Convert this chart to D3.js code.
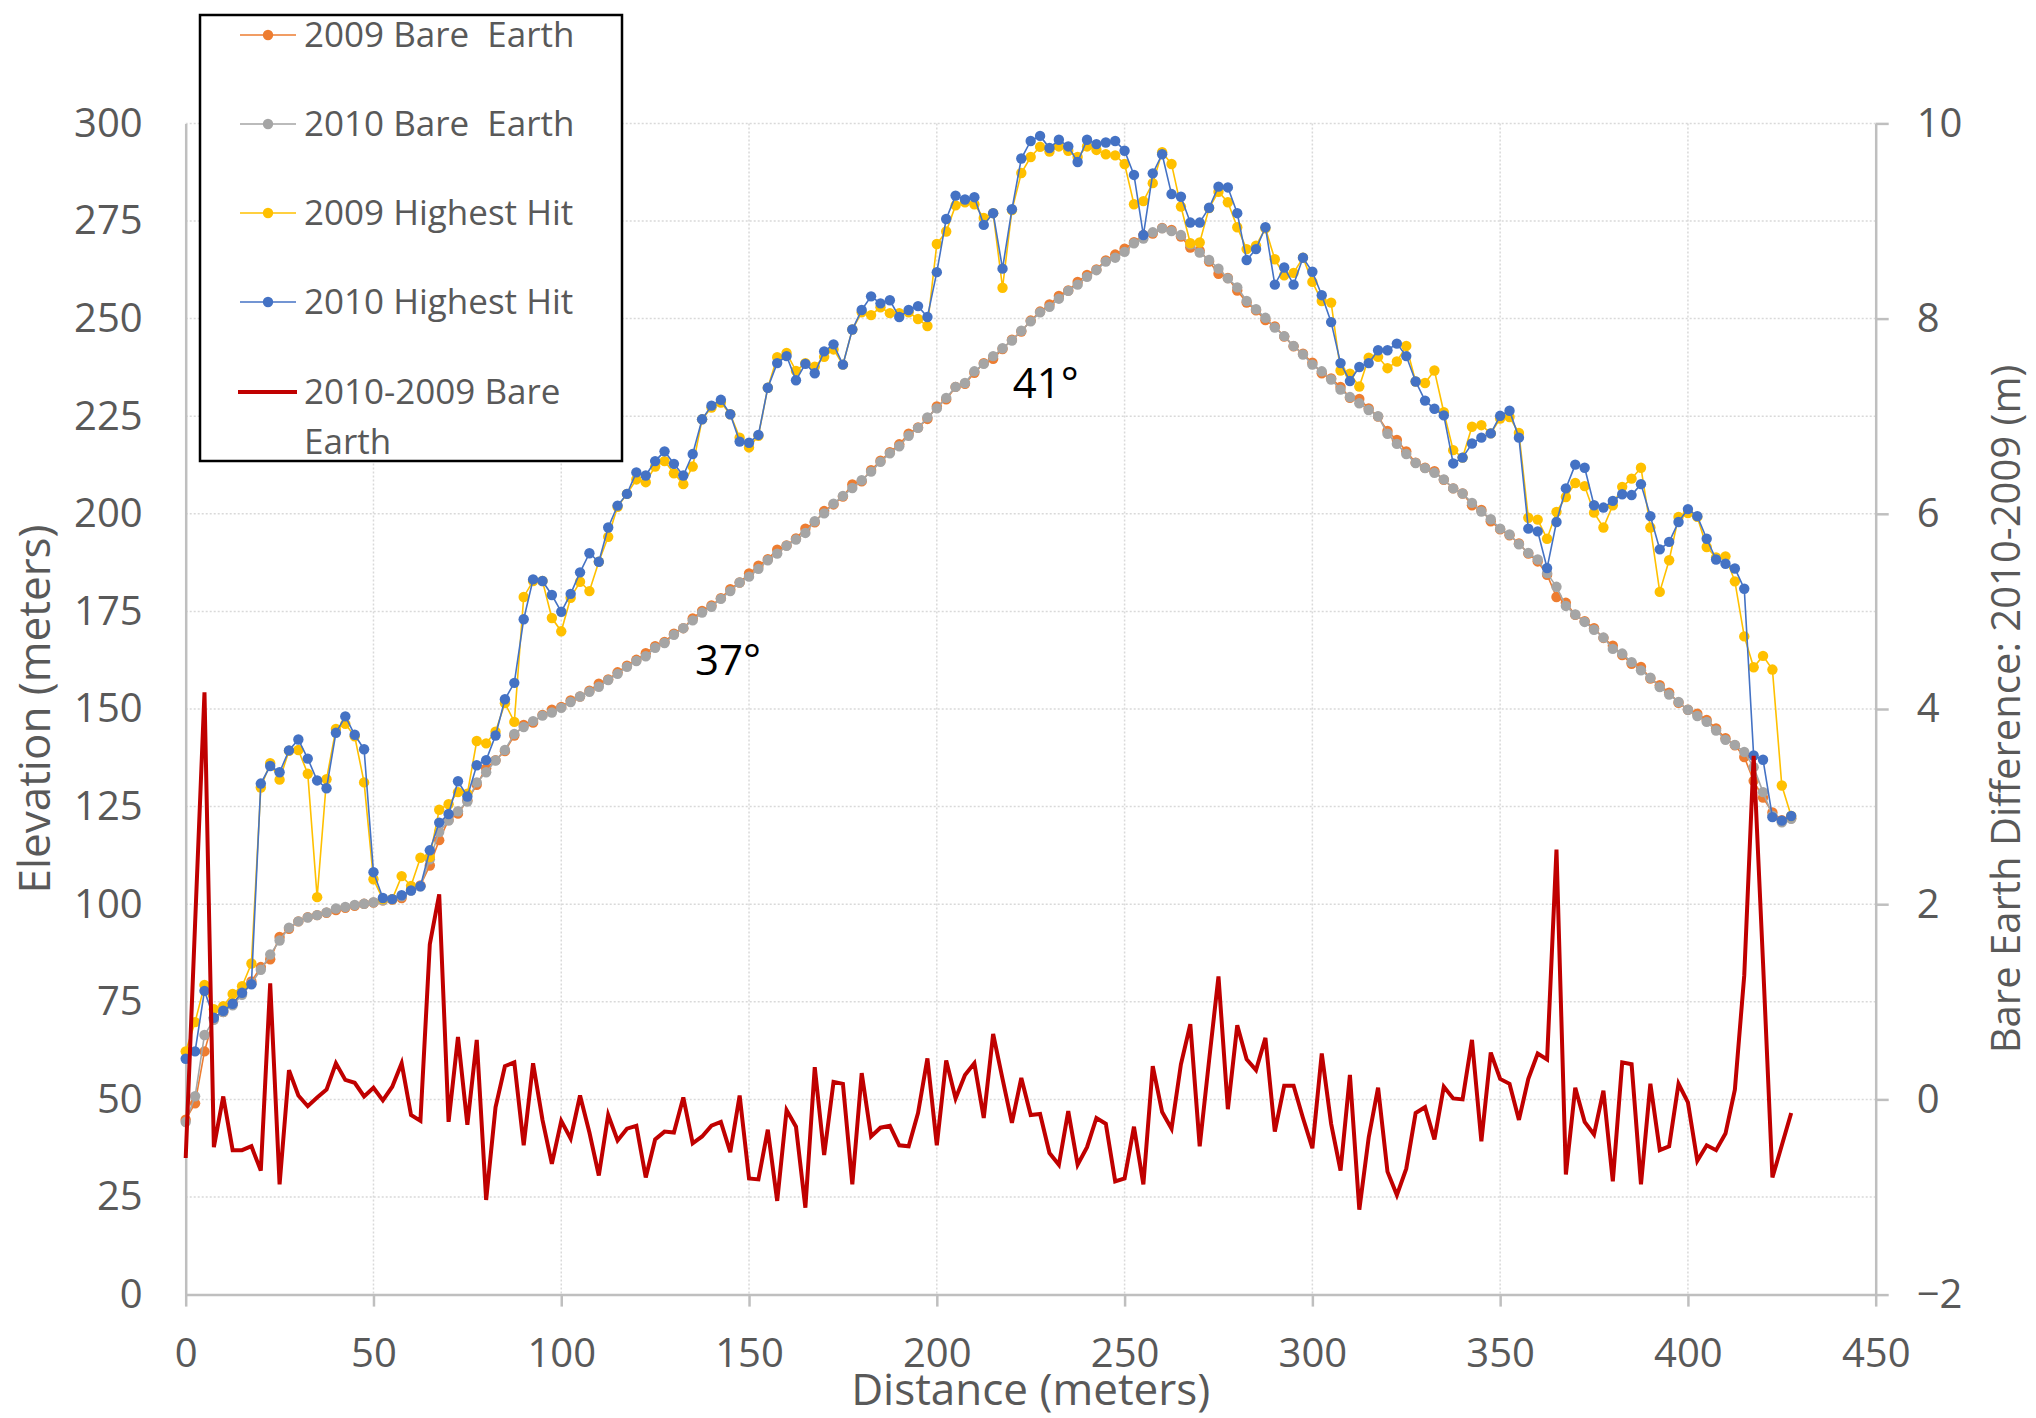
<!DOCTYPE html>
<html>
<head>
<meta charset="utf-8">
<script src="https://cdn.jsdelivr.net/npm/d3@7"></script>
<style>
  body { margin: 0; background: #fff; }
  svg { display: block; font-family: "Open Sans", "Noto Sans", sans-serif; }
  .gridline { stroke: #d9d9d9; stroke-width: 1.5; stroke-dasharray: 2,2; }
  .axis path, .axis line { stroke: #bfbfbf; stroke-width: 2.5; }
  .axis text { fill: #595959; font-size: 40px; }
  .title { fill: #595959; font-size: 44px; }
  .legtext { fill: #595959; font-size: 35px; white-space: pre; }
</style>
</head>
<body>
<div id="chart"></div>
<script>
// distances along the profile (m)
var distance = [0,2.5,5,7.5,10,12.5,15,17.5,20,22.5,25,27.5,30,32.5,35,37.5,40,42.5,45,47.5,
  50,52.5,55,57.5,60,62.5,65,67.5,70,72.5,75,77.5,80,82.5,85,87.5,90,92.5,95,97.5,
  100,102.5,105,107.5,110,112.5,115,117.5,120,122.5,125,127.5,130,132.5,135,137.5,140,142.5,145,147.5,
  150,152.5,155,157.5,160,162.5,165,167.5,170,172.5,175,177.5,180,182.5,185,187.5,190,192.5,195,197.5,
  200,202.5,205,207.5,210,212.5,215,217.5,220,222.5,225,227.5,230,232.5,235,237.5,240,242.5,245,247.5,
  250,252.5,255,257.5,260,262.5,265,267.5,270,272.5,275,277.5,280,282.5,285,287.5,290,292.5,295,297.5,
  300,302.5,305,307.5,310,312.5,315,317.5,320,322.5,325,327.5,330,332.5,335,337.5,340,342.5,345,347.5,
  350,352.5,355,357.5,360,362.5,365,367.5,370,372.5,375,377.5,380,382.5,385,387.5,390,392.5,395,397.5,
  400,402.5,405,407.5,410,412.5,415,417.5,420,422.5,425,427.5];

var bare2009 = [44.8,49.0,62.3,70.9,72.4,74.6,77.3,80.2,83.9,85.9,91.6,93.7,95.6,96.7,97.2,97.8,98.5,99.1,99.6,100.1,
  100.4,101.0,101.2,101.6,103.7,104.8,109.9,116.4,121.6,123.2,126.6,130.6,134.8,136.9,139.2,143.2,145.9,146.5,148.5,149.8,
  150.5,152.2,153.2,154.7,156.5,157.6,159.4,161.1,162.6,164.3,166.1,167.2,169.3,170.7,173.2,175.1,176.5,178.4,180.7,182.4,
  184.7,186.7,188.4,190.8,191.9,193.7,196.2,197.8,200.7,202.4,204.4,207.5,208.3,211.2,213.6,215.8,217.8,220.5,222.1,224.3,
  227.5,229.3,232.5,233.3,236.1,238.6,239.7,242.2,244.6,246.7,249.5,251.8,253.6,255.8,257.2,259.4,261.2,262.6,264.9,266.4,
  267.9,269.6,271.4,271.8,273.2,272.7,271.0,268.2,267.4,264.6,261.5,260.4,257.2,254.1,252.1,249.6,248.0,245.4,242.9,241.0,
  238.7,236.0,234.7,232.5,229.7,229.4,227.0,224.9,221.2,218.9,216.0,213.1,211.8,210.9,208.7,206.5,205.2,202.2,201.0,198.1,
  196.0,194.5,192.4,189.8,187.8,184.4,178.7,177.2,174.1,172.5,170.7,168.2,166.2,163.8,161.6,160.8,157.8,156.1,154.2,151.6,
  149.8,148.8,147.2,145.0,142.5,140.7,137.7,131.6,127.3,123.5,121.5,122.0];

var bare2010 = [44.2,50.8,66.5,70.4,72.4,74.1,76.8,79.7,83.2,87.1,90.7,94.0,95.6,96.6,97.2,97.9,98.9,99.3,99.8,100.1,
  100.5,101.0,101.3,102.0,103.5,104.6,111.5,118.5,121.4,123.8,126.3,131.2,133.8,136.8,139.5,143.6,145.4,146.9,148.3,149.1,
  150.3,151.8,153.2,154.4,155.7,157.4,159.0,160.8,162.3,163.5,165.7,166.9,169.0,170.7,172.7,174.7,176.2,178.2,180.2,182.4,
  183.9,185.9,188.1,189.8,191.8,193.4,195.1,198.1,200.1,202.6,204.6,206.6,208.6,210.8,213.3,215.5,217.3,220.0,222.0,224.7,
  227.0,229.7,232.5,233.5,236.5,238.4,240.4,242.4,244.4,246.9,249.3,251.6,253.0,255.1,257.1,258.7,260.7,262.4,264.6,265.6,
  267.1,269.3,270.5,272.1,273.1,272.4,271.4,269.0,266.9,265.0,262.8,260.3,258.0,254.5,252.4,250.2,247.7,245.5,243.0,240.8,
  238.2,236.5,234.4,231.8,229.9,228.3,226.6,225.0,220.5,217.9,215.3,213.0,211.7,210.5,208.8,206.5,205.2,202.8,200.6,198.6,
  196.2,194.7,192.2,190.0,188.3,184.8,181.3,176.4,174.2,172.3,170.3,168.3,165.4,164.2,162.0,159.9,158.0,155.6,153.7,151.8,
  149.8,148.2,146.7,144.5,142.1,140.8,139.0,135.1,128.7,122.7,121.0,121.9];

var hit2009 = [62.3,69.8,79.3,73.1,73.9,77.0,79.0,84.8,129.9,136.1,131.9,139.3,139.5,133.4,101.8,132.0,144.9,146.2,143.0,131.2,
  106.4,101.3,101.3,107.2,104.7,111.9,112.1,124.2,125.6,128.7,128.3,141.8,141.2,144.2,151.5,146.7,178.7,182.8,182.8,173.3,
  169.9,178.5,182.6,180.2,187.7,194.1,201.8,205.1,208.8,208.1,212.1,213.5,210.4,207.6,212.1,224.2,227.2,228.5,225.5,219.5,
  217.0,220.0,232.3,240.1,241.2,236.6,238.6,237.7,240.2,242.1,238.2,247.2,251.6,250.9,252.9,251.4,251.4,251.6,249.9,248.1,
  269.1,272.3,279.0,279.8,279.3,275.8,277.0,257.9,277.8,287.3,291.4,294.0,292.8,294.1,293.0,291.4,294.1,293.2,292.1,291.8,
  289.6,279.3,280.1,284.7,292.6,289.6,278.7,269.3,269.5,278.3,282.5,279.8,273.4,267.8,268.7,273.1,265.2,261.1,261.7,265.6,
  259.4,254.5,254.1,236.7,235.9,232.6,240.0,240.2,237.3,239.0,243.0,233.9,233.5,236.7,226.0,216.3,214.4,222.3,222.7,220.6,
  224.4,224.8,220.7,199.0,198.5,193.6,200.5,204.3,207.9,207.1,200.3,196.5,202.2,206.9,209.0,211.8,196.5,180.0,188.1,199.2,
  200.2,199.2,191.5,188.8,189.1,182.7,168.6,160.7,163.6,160.1,130.4,122.6];

var hit2010 = [60.4,62.3,77.8,70.9,72.7,74.5,77.3,79.5,130.9,135.4,133.8,139.4,142.2,137.3,131.7,129.7,143.9,148.1,143.4,139.7,
  108.2,101.6,101.3,102.3,103.5,104.6,113.8,120.9,123.1,131.5,127.6,135.6,136.9,143.2,152.5,156.7,173.0,183.2,182.8,179.2,
  174.9,179.5,185.0,189.9,187.7,196.5,202.1,205.1,210.6,209.8,213.5,216.0,212.8,209.8,215.3,224.2,227.7,229.2,225.5,218.5,
  218.2,220.2,232.3,238.6,240.4,234.2,238.4,236.0,241.6,243.4,238.2,247.2,252.2,255.7,253.9,254.7,250.4,252.2,253.2,250.4,
  261.9,275.5,281.5,280.5,281.1,274.0,277.0,262.8,278.0,291.0,295.5,296.8,293.7,295.8,294.1,290.1,295.8,294.7,295.1,295.5,
  293.0,286.8,271.4,287.2,292.1,281.9,281.2,274.6,274.6,278.4,283.8,283.6,277.0,265.0,267.8,273.4,258.7,263.1,258.7,265.6,
  262.0,256.0,249.1,238.6,234.0,237.6,238.6,241.9,241.9,243.6,240.4,233.9,229.0,226.9,225.2,212.9,214.4,218.0,219.5,220.6,
  225.1,226.4,219.5,196.2,195.5,186.1,197.9,206.5,212.6,211.8,202.2,201.6,203.3,205.0,204.8,207.6,199.4,190.9,192.8,197.9,
  201.2,199.4,193.6,188.3,187.2,186.0,180.8,138.1,137.0,122.3,121.4,122.6];

// 2010 minus 2009 bare earth (m), secondary axis
var diff = [-0.60,1.80,4.17,-0.49,0.03,-0.52,-0.52,-0.48,-0.73,1.19,-0.87,0.30,0.04,-0.07,0.02,0.10,0.37,0.20,0.17,0.03,
  0.12,-0.01,0.13,0.37,-0.16,-0.22,1.59,2.10,-0.23,0.64,-0.26,0.61,-1.03,-0.08,0.34,0.38,-0.47,0.37,-0.21,-0.66,
  -0.22,-0.40,0.04,-0.34,-0.78,-0.16,-0.42,-0.30,-0.27,-0.80,-0.41,-0.33,-0.34,0.02,-0.45,-0.38,-0.27,-0.23,-0.54,0.04,
  -0.81,-0.82,-0.31,-1.04,-0.11,-0.28,-1.11,0.33,-0.57,0.18,0.16,-0.87,0.27,-0.38,-0.29,-0.27,-0.47,-0.48,-0.14,0.42,
  -0.47,0.40,0.01,0.25,0.37,-0.19,0.67,0.21,-0.24,0.22,-0.16,-0.15,-0.55,-0.67,-0.12,-0.67,-0.49,-0.19,-0.25,-0.84,
  -0.81,-0.28,-0.87,0.34,-0.13,-0.30,0.36,0.77,-0.48,0.40,1.26,-0.10,0.76,0.41,0.30,0.63,-0.33,0.14,0.14,-0.19,
  -0.50,0.47,-0.25,-0.73,0.25,-1.13,-0.39,0.12,-0.74,-0.98,-0.71,-0.14,-0.08,-0.41,0.13,0.01,0.00,0.61,-0.43,0.48,
  0.21,0.16,-0.21,0.21,0.47,0.41,2.56,-0.77,0.12,-0.23,-0.36,0.09,-0.84,0.38,0.36,-0.87,0.16,-0.52,-0.48,0.16,
  -0.03,-0.63,-0.47,-0.52,-0.35,0.10,1.27,3.52,1.40,-0.80,-0.47,-0.14];

var elevTicks = [0,25,50,75,100,125,150,175,200,225,250,275,300];
var diffTicks = [-2,0,2,4,6,8,10];
var distTicks = [0,50,100,150,200,250,300,350,400,450];

var seriesNames = ["2009 Bare  Earth", "2010 Bare  Earth", "2009 Highest Hit", "2010 Highest Hit"];
var seriesColors = ["#ED7D31", "#A5A5A5", "#FFC000", "#4472C4"];
var diffName = ["2010-2009 Bare", "Earth"];
var diffColor = "#C00000";
var slopeLabels = [{text: "37°", d: 135.6, v: 158.7}, {text: "41°", d: 220.2, v: 229.7}];

// sizes
var width = 2036, height = 1418;
var margin = {top: 123.4, right: 160.3, bottom: 123.4, left: 185.7};
var w = width - margin.left - margin.right;
var h = height - margin.top - margin.bottom;

var x = d3.scaleLinear().domain([0, 450]).range([0, w]);
var y = d3.scaleLinear().domain([0, 300]).range([h, 0]);
var y2 = d3.scaleLinear().domain([-2, 10]).range([h, 0]);

var svg = d3.select("#chart").append("svg").attr("width", width).attr("height", height);
svg.append("rect").attr("width", width).attr("height", height).attr("fill", "#fff");
var g = svg.append("g").attr("transform", "translate(" + margin.left + "," + margin.top + ")");

// gridlines
g.selectAll(".hgrid").data(elevTicks.filter(function(d) { return d > 0; }))
  .enter().append("line").attr("class", "gridline")
  .attr("x1", 0).attr("x2", w).attr("y1", function(d) { return y(d); }).attr("y2", function(d) { return y(d); });
g.selectAll(".vgrid").data(distTicks.filter(function(d) { return d > 0 && d < 450; }))
  .enter().append("line").attr("class", "gridline")
  .attr("x1", function(d) { return x(d); }).attr("x2", function(d) { return x(d); }).attr("y1", 0).attr("y2", h);

// axes
var xAxis = d3.axisBottom(x).tickValues(distTicks).tickSize(12).tickPadding(32).tickSizeOuter(0);
var yAxis = d3.axisLeft(y).tickValues(elevTicks).tickSize(0).tickPadding(43);
var yAxis2 = d3.axisRight(y2).tickValues(diffTicks).tickSize(13).tickPadding(28).tickSizeOuter(0);

g.append("g").attr("class", "axis").attr("transform", "translate(0," + h + ")").call(xAxis);
g.append("g").attr("class", "axis").call(yAxis);
g.append("g").attr("class", "axis").attr("transform", "translate(" + w + ",0)").call(yAxis2);
g.selectAll(".axis").attr("font-family", null).attr("font-size", null);

// series lines + markers
var series = [bare2009, bare2010, hit2009, hit2010];
series.forEach(function(s, k) {
  var line = d3.line().x(function(d, i) { return x(distance[i]); }).y(function(d) { return y(d); });
  g.append("path").datum(s).attr("d", line)
    .attr("fill", "none").attr("stroke", seriesColors[k]).attr("stroke-width", 1.6);
  g.selectAll(".m" + k).data(s).enter().append("circle")
    .attr("cx", function(d, i) { return x(distance[i]); })
    .attr("cy", function(d) { return y(d); })
    .attr("r", 5.2).attr("fill", seriesColors[k]);
});

// difference line on secondary axis
var diffLine = d3.line().x(function(d, i) { return x(distance[i]); }).y(function(d) { return y2(d); });
g.append("path").datum(diff).attr("d", diffLine)
  .attr("fill", "none").attr("stroke", diffColor).attr("stroke-width", 4).attr("stroke-linejoin", "miter");

// slope labels
g.selectAll(".slope").data(slopeLabels).enter().append("text")
  .attr("x", function(d) { return x(d.d); }).attr("y", function(d) { return y(d.v); })
  .attr("font-size", 42).attr("fill", "#000").text(function(d) { return d.text; });

// axis titles
svg.append("text").attr("class", "title").attr("text-anchor", "middle")
  .attr("transform", "translate(50," + (margin.top + h / 2) + ") rotate(-90)").text("Elevation (meters)");
svg.append("text").attr("class", "title").attr("text-anchor", "middle")
  .attr("x", margin.left + w / 2).attr("y", 1405).text("Distance (meters)");
svg.append("text").attr("class", "title").attr("text-anchor", "middle")
  .attr("transform", "translate(2020," + (margin.top + h / 2) + ") rotate(-90)")
  .style("font-size", "40px").text("Bare Earth Difference: 2010-2009 (m)");

// legend
var legend = svg.append("g").attr("transform", "translate(200,15)");
legend.append("rect").attr("width", 422).attr("height", 446)
  .attr("fill", "#fff").attr("stroke", "#000").attr("stroke-width", 2.5);
var rowY = [20, 109, 198, 287];
seriesNames.forEach(function(name, k) {
  var row = legend.append("g").attr("transform", "translate(0," + rowY[k] + ")");
  row.append("line").attr("x1", 40).attr("x2", 96).attr("stroke", seriesColors[k]).attr("stroke-width", 1.6);
  row.append("circle").attr("cx", 68).attr("r", 5.2).attr("fill", seriesColors[k]);
  row.append("text").attr("class", "legtext").attr("x", 104).attr("dy", "0.35em").text(name);
});
var redRow = legend.append("g").attr("transform", "translate(0,377)");
redRow.append("line").attr("x1", 38).attr("x2", 97).attr("stroke", diffColor).attr("stroke-width", 4);
redRow.selectAll("text").data(diffName).enter().append("text").attr("class", "legtext")
  .attr("x", 104).attr("y", function(d, i) { return i * 50; }).attr("dy", "0.35em").text(function(d) { return d; });
</script>
</body>
</html>
